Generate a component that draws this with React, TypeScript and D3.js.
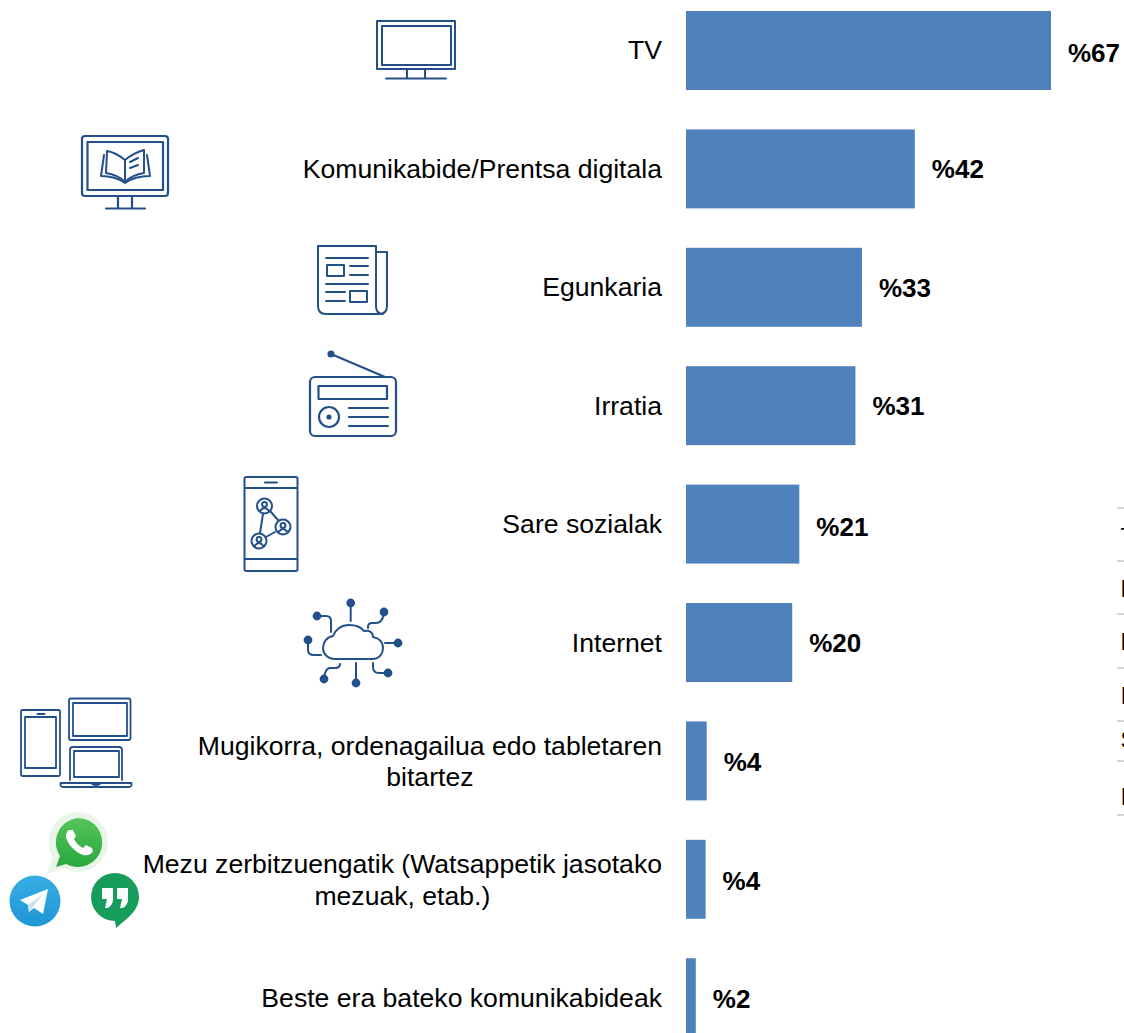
import React from "react";
import * as d3 from "d3";

const categories = [
  ["TV"],
  ["Komunikabide/Prentsa digitala"],
  ["Egunkaria"],
  ["Irratia"],
  ["Sare sozialak"],
  ["Internet"],
  ["Mugikorra, ordenagailua edo tabletaren", "bitartez"],
  ["Mezu zerbitzuengatik (Watsappetik jasotako", "mezuak, etab.)"],
  ["Beste era bateko komunikabideak"],
];
const values = [67, 42, 32.3, 31.1, 20.8, 19.5, 3.8, 3.6, 1.8];
const valueLabels = ["%67", "%42", "%33", "%31", "%21", "%20", "%4", "%4", "%2"];
const valueLabelNudge = [0, -2, -2, -2, 0, -2, -1, -1, -1];
const offscreenRows = ["TV", "Komunikabide", "Egunkaria", "Irratia", "Sare", "Internet"];
const offscreenBaselines = [545, 597, 650, 704, 748, 805];
const offscreenRules = [508, 561, 614, 668, 721, 761, 815];

const FONT = "'Liberation Sans', Arial, sans-serif";
const BAR = "#4f81bd";
const INK = "#24508a";

function textWidth(s: string, font: string) {
  const c = document.createElement("canvas").getContext("2d")!;
  c.font = font;
  return c.measureText(s).width;
}

const Icons = () => (
  <g fill="none" stroke={INK} strokeWidth={2} strokeLinecap="round" strokeLinejoin="round">
    {/* TV */}
    <rect x={377} y={21} width={78} height={48} />
    <rect x={382} y={26} width={69} height={39} />
    <path d="M407 69V78M425 69V78M386 78.5H446" />
    {/* monitor + book */}
    <rect x={82} y={136} width={86} height={60} rx={3} strokeWidth={2.2} />
    <rect x={87.5} y={142} width={75.5} height={48} strokeWidth={2.2} />
    <path d="M118 196V208M132 196V208M106 208.5H145" strokeWidth={2.2} />
    <path d="M125 160C119 155 113 152 107 151L106 173C113 174 120 177 125 182C130 177 137 174 144 173L144 150C137 152 131 155 125 160V181" />
    <path d="M104 155L101 176C110 176 118 178 125 183C132 178 141 176 150 176L147 155" />
    <path d="M130 162L138 158M130 168L138 165" />
    {/* newspaper */}
    <g strokeWidth={2}>
      <path d="M376 252H387V306Q387 314 379 314H326Q318 314 318 306V246H376V306Q376 314 383 314" />
      <path d="M326 258H368M350 266H368M350 275H368M326 284H368M326 292H345M326 301H345" />
      <rect x={327} y={265} width={17} height={11} />
      <rect x={350} y={291} width={17} height={11} />
    </g>
    {/* radio */}
    <g strokeWidth={2.2}>
      <rect x={310} y={377} width={86} height={59} rx={5} />
      <rect x={318.5} y={386} width={68.5} height={13} />
      <circle cx={329} cy={417} r={10} />
      <path d="M349 408H388M349 417H388M349 426H388M331 354L385 377" />
      <circle cx={331} cy={354} r={2.5} fill={INK} />
      <circle cx={329} cy={417} r={1.5} fill={INK} />
    </g>
    {/* phone */}
    <g strokeWidth={2}>
      <rect x={244.5} y={477} width={53} height={94} rx={2} />
      <path d="M245 488H297M245 559H297M265 482.5H277" />
      <path d="M263 514L260 533M270 511L278 520M275 532L266 537" />
      {[[264.5, 506], [283, 527], [259, 541]].map(([cx, cy], i) => (
        <g key={i}>
          <circle cx={cx} cy={cy} r={7.5} />
          <circle cx={cx} cy={cy - 1.5} r={2.4} />
          <path d={`M${cx - 4.5} ${cy + 5}Q${cx} ${cy - 1} ${cx + 4.5} ${cy + 5}`} />
        </g>
      ))}
    </g>
    {/* cloud */}
    <g strokeWidth={2}>
      <path d="M335 659H372C380 659 383 653 383 648C383 642 379 638 373 637C373 632 369 630 364 631C361 627 355 625 349 625C341 625 335 630 333 636C327 637 323 642 323 648C323 654 328 659 335 659Z" />
      <path d="M350.7 603V621M368 628V627Q368 623 372 623H376Q382 623 384 614M385 643H398M373 663V667Q373 673 379 673H388M356 663V683M340 664Q340 668 335 668H330Q325 668 324 679M321 655H314Q308 655 308 650V640M331 632V621Q331 616 326 616H317" />
      {[[350.7, 603], [384, 612], [398, 643], [388, 673], [356, 683], [324, 679], [308, 640], [317, 616]].map(([cx, cy], i) => (
        <circle key={i} cx={cx} cy={cy} r={3.4} fill={INK} />
      ))}
    </g>
    {/* devices */}
    <g strokeWidth={1.8}>
      <rect x={21} y={710} width={39} height={66} rx={1.5} />
      <rect x={25} y={717} width={31} height={51} />
      <path d="M37.5 714H44.5" />
      <rect x={69} y={698.5} width={61.5} height={41.5} rx={2} />
      <rect x={73} y={703} width={54} height={33} />
      <path d="M70 780V750Q70 747 73 747H119Q122 747 122 750V780" />
      <rect x={74} y={751} width={45} height={26} />
      <path d="M60.5 783H131.5Q132 787 129 787H63Q60 787 60.5 783ZM91 783Q93 785 96 785Q99 785 101 783" />
    </g>
  </g>
);

const Apps = () => (
  <g>
    <defs>
      <linearGradient id="tg" x1="0" y1="0" x2="0" y2="1">
        <stop offset="0" stopColor="#38aee6" />
        <stop offset="1" stopColor="#1e96d4" />
      </linearGradient>
      <linearGradient id="wa" x1="0" y1="0" x2="0" y2="1">
        <stop offset="0" stopColor="#55c45a" />
        <stop offset="1" stopColor="#27a83e" />
      </linearGradient>
    </defs>
    {/* whatsapp */}
    <path d="M78 812A30 30 0 1 1 63 868L47 874L52 856A30 30 0 0 1 78 812Z" fill="#eaf5ea" />
    <path d="M78 818A24.5 24.5 0 1 1 66 864L56 867L60 856A24.5 24.5 0 0 1 78 818Z" fill="url(#wa)" />
    <path d="M69 830C66 832 65 836 67 840C70 847 76 852 83 855C87 856 91 855 93 851L92 848L86 845L83 848C79 846 76 843 74 839L76 836L73 830Z" fill="#fff" />
    {/* telegram */}
    <circle cx={35} cy={901} r={25.5} fill="url(#tg)" />
    <path d="M20 900L48 889L43 914L34 908L29 912L28 905Z" fill="#fff" />
    <path d="M28 905L43 894L33 907L29 912Z" fill="#cfe3ee" />
    {/* hangouts */}
    <path d="M115 873A24 24 0 0 1 139 897C139 910 128 918 116 928L115 921A24 24 0 0 1 115 873Z" fill="#169c5b" />
    <path d="M102 888H113V899Q113 905 108 908H105L107 899H102ZM117 888H128V899Q128 905 123 908H120L122 899H117Z" fill="#fff" />
  </g>
);

export default function App() {
  const y = d3
    .scaleBand<number>()
    .domain(d3.range(categories.length))
    .range([11, 1037.2])
    .paddingInner(0.333);
  const x = d3.scaleLinear().domain([0, 67]).range([686, 1051]);
  const labelSize = 26.6;
  const labelFont = `${labelSize}px ${FONT}`;

  return (
    <svg
      width={1124}
      height={1033}
      style={{ position: "absolute", left: 0, top: 0, background: "#fff", display: "block" }}
      fontFamily={FONT}
    >
      <Icons />
      <Apps />
      {values.map((v, i) => (
        <rect key={i} x={x(0)} y={y(i)} width={x(v) - x(0)} height={y.bandwidth()} fill={BAR} />
      ))}
      {categories.map((lines, i) => {
        const cy = y(i)! + y.bandwidth() / 2;
        const blockW = textWidth(lines[0], labelFont);
        return lines.map((line, j) => {
          const w = textWidth(line, labelFont);
          const lx = 662 - (blockW + w) / 2;
          const base = lines.length === 1 ? cy + 9 : cy - 6 + j * 31.5;
          return (
            <text key={`${i}-${j}`} x={lx} y={base} fontSize={labelSize} fill="#000">
              {line}
            </text>
          );
        });
      })}
      {values.map((v, i) => (
        <text
          key={i}
          x={x(v) + 17}
          y={y(i)! + y.bandwidth() / 2 + 11.5 + valueLabelNudge[i]}
          fontSize={26}
          fontWeight={700}
          fill="#000"
        >
          {valueLabels[i]}
        </text>
      ))}
      {offscreenRules.map((ry) => (
        <line key={ry} x1={1117} x2={1124} y1={ry} y2={ry} stroke="#c8c8c8" strokeWidth={1.5} />
      ))}
      {offscreenRows.map((t, i) => (
        <text key={t} x={1120.5} y={offscreenBaselines[i]} fontSize={23} fill="#000">
          {t}
        </text>
      ))}
    </svg>
  );
}
